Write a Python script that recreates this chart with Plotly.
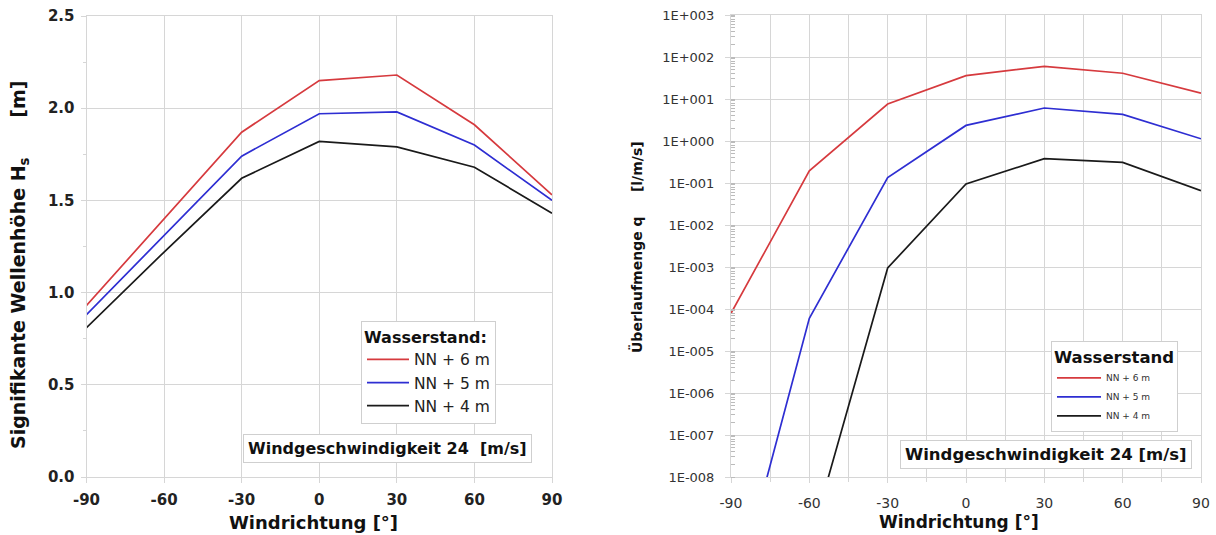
import plotly.graph_objects as go

W, H = 1216, 535

# ---------------- data ----------------
wind_dir = [-90, -60, -30, 0, 30, 60, 90]

hs_nn6 = [0.93, 1.40, 1.87, 2.15, 2.18, 1.91, 1.53]
hs_nn5 = [0.88, 1.31, 1.74, 1.97, 1.98, 1.80, 1.50]
hs_nn4 = [0.81, 1.22, 1.62, 1.82, 1.79, 1.68, 1.43]

q_nn6 = [7.9e-5, 0.195, 7.6, 36.0, 60.0, 41.0, 13.8]
q_nn5 = [6e-12, 6e-5, 0.135, 2.35, 6.1, 4.3, 1.13]
q_nn4 = [1e-15, 2.5e-10, 9.5e-4, 0.095, 0.38, 0.31, 0.066]

series_names = ["NN + 6 m", "NN + 5 m", "NN + 4 m"]
colors = ["#d63a3e", "#2e2ed2", "#1a1a1a"]

hs_ticks = [0.0, 0.5, 1.0, 1.5, 2.0, 2.5]
hs_ticklabels = ["0.0", "0.5", "1.0", "1.5", "2.0", "2.5"]
x_ticks = [-90, -60, -30, 0, 30, 60, 90]
x_ticklabels = ["-90", "-60", "-30", "0", "30", "60", "90"]
q_exponents = list(range(-8, 4))
q_ticks = [10.0 ** e for e in q_exponents]
q_ticklabels = ["1E%s%03d" % ("+" if e >= 0 else "-", abs(e)) for e in q_exponents]

FONT = "DejaVu Sans, Verdana, sans-serif"

# ---------------- layout helpers ----------------
def px_x(p):
    return p / W

def px_y(p):
    return 1 - p / H

fig = go.Figure()

for vals, name, col in zip([hs_nn6, hs_nn5, hs_nn4], series_names, colors):
    fig.add_trace(go.Scatter(x=wind_dir, y=vals, mode="lines", name=name,
                             line=dict(color=col, width=1.7),
                             xaxis="x", yaxis="y", legend="legend"))

for vals, name, col in zip([q_nn6, q_nn5, q_nn4], series_names, colors):
    fig.add_trace(go.Scatter(x=wind_dir, y=vals, mode="lines", name=name,
                             line=dict(color=col, width=1.7),
                             xaxis="x2", yaxis="y2", legend="legend2"))

grid = "#d6d6d6"
common_x = dict(range=[-90, 90], tickvals=x_ticks, ticktext=x_ticklabels,
                showgrid=True, gridcolor=grid,
                zeroline=False, showline=True, linecolor=grid, mirror=True,
                ticks="outside", ticklen=5, tickcolor=grid, automargin=False)

fig.update_layout(
    width=W, height=H,
    margin=dict(l=0, r=0, t=0, b=0),
    paper_bgcolor="white", plot_bgcolor="white",
    font=dict(family=FONT, color="#222"),
    xaxis=dict(domain=[px_x(86.5), px_x(552)], anchor="y",
               tickfont=dict(size=15, family=FONT, color="#222", weight="bold"),
               ticklabelstandoff=4,
               **common_x),
    yaxis=dict(domain=[px_y(477), px_y(16)], anchor="x", range=[0, 2.5],
               tickvals=hs_ticks, ticktext=hs_ticklabels,
               showgrid=True, gridcolor=grid, zeroline=False,
               showline=True, linecolor=grid, mirror=True,
               ticks="outside", ticklen=5, tickcolor=grid, ticklabelstandoff=3,
               minor=dict(dtick=0.25, ticks="outside", ticklen=3, tickcolor=grid, showgrid=False),
               tickfont=dict(size=15, family=FONT, color="#222", weight="bold"),
               automargin=False),
    xaxis2=dict(domain=[px_x(731), px_x(1201)], anchor="y2",
                tickfont=dict(size=14, family=FONT, color="#333"),
                ticklabelstandoff=8,
                minor=dict(dtick=15, showgrid=True, gridcolor=grid, ticks="outside",
                           ticklen=4, tickcolor=grid),
                **common_x),
    yaxis2=dict(domain=[px_y(477), px_y(15)], anchor="x2", type="log", range=[-8, 3],
                tickvals=q_ticks, ticktext=q_ticklabels,
                showgrid=True, gridcolor=grid, zeroline=False,
                showline=True, linecolor=grid, mirror=True,
                ticks="outside", ticklen=5, tickcolor=grid, ticklabelstandoff=8,
                minor=dict(dtick="D1", ticks="inside", ticklen=4, tickcolor="#bbb", showgrid=False),
                tickfont=dict(size=13, family=FONT, color="#333"),
                automargin=False),
    legend=dict(x=px_x(361), y=px_y(321), xanchor="left", yanchor="top",
                bgcolor="white", bordercolor="#cfcfcf", borderwidth=1,
                title=dict(text="<b>Wasserstand:</b>", font=dict(size=16, family=FONT, color="#111")),
                font=dict(size=15.5, family=FONT, color="#222"),
                tracegroupgap=0, itemwidth=42),
    legend2=dict(x=px_x(1051), y=px_y(341), xanchor="left", yanchor="top",
                 bgcolor="white", bordercolor="#cfcfcf", borderwidth=1,
                 title=dict(text="<b>Wasserstand</b>", font=dict(size=16.5, family=FONT, color="#111")),
                 font=dict(size=9, family=FONT, color="#333"),
                 tracegroupgap=0, itemwidth=44),
    showlegend=True,
)

annotations = [
    # axis titles
    dict(text="<b>Windrichtung [°]</b>", x=px_x(313), y=px_y(522),
         font=dict(size=18, family=FONT, color="#111")),
    dict(text="<b>Windrichtung [°]</b>", x=px_x(959), y=px_y(522),
         font=dict(size=17, family=FONT, color="#111")),
    dict(text="<b>Signifikante Wellenhöhe H<sub>s</sub>      [m]</b>", x=px_x(20), y=px_y(265),
         textangle=-90, font=dict(size=19, family=FONT, color="#111")),
    dict(text="<b>Überlaufmenge q     [l/m/s]</b>", x=px_x(636), y=px_y(247),
         textangle=-90, font=dict(size=14, family=FONT, color="#111")),
    # wind speed boxes
    dict(text="<b>Windgeschwindigkeit 24  [m/s]</b>", x=px_x((241 + 534) / 2), y=px_y(448),
         font=dict(size=16, family=FONT, color="#111"),
         bgcolor="white", bordercolor="#cfcfcf", borderwidth=1, borderpad=4),
    dict(text="<b>Windgeschwindigkeit 24 [m/s]</b>", x=px_x((894 + 1198) / 2), y=px_y(454),
         font=dict(size=16.5, family=FONT, color="#111"),
         bgcolor="white", bordercolor="#cfcfcf", borderwidth=1, borderpad=4),
]
for a in annotations:
    a.update(xref="paper", yref="paper", showarrow=False, xanchor="center", yanchor="middle")
    fig.add_annotation(**a)

fig.write_html("out.html", config={"displayModeBar": False},
               post_script="document.body.style.margin='0';document.body.style.overflow='hidden';")
